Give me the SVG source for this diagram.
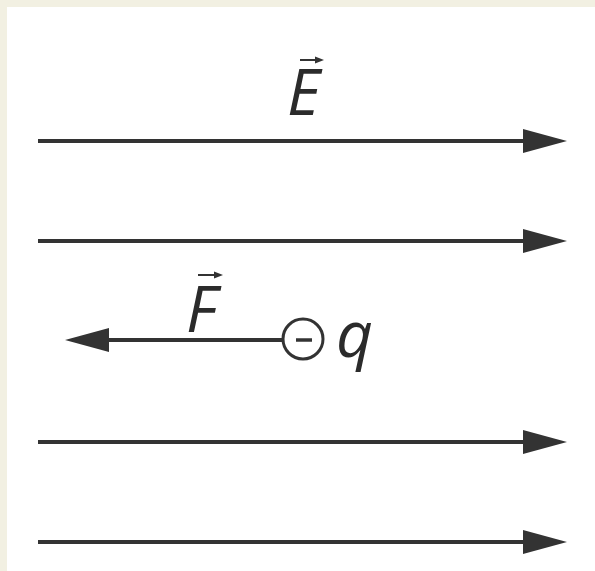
<svg xmlns="http://www.w3.org/2000/svg" width="595" height="571" viewBox="0 0 595 571">
<defs>
<style>
.line{stroke:#333;stroke-width:4;fill:none}
.vec{stroke:#333;stroke-width:2;fill:none}
.lbl{font-family:"Open Sans","Liberation Sans",sans-serif;font-style:italic;fill:#2b2b2b}
</style>
<marker id="head" markerUnits="userSpaceOnUse" markerWidth="46" markerHeight="26" refX="0" refY="13" orient="auto" viewBox="0 0 46 26">
<path d="M0,1 L44,13 L0,25 Z" fill="#333"/>
</marker>
<marker id="small" markerUnits="userSpaceOnUse" markerWidth="10" markerHeight="8" refX="0" refY="4" orient="auto" viewBox="0 0 10 8">
<path d="M0,0.5 L9,4 L0,7.5 Z" fill="#333"/>
</marker>
</defs>
<rect x="0" y="0" width="595" height="571" fill="#f2f0e2"/>
<rect x="7" y="7" width="588" height="564" fill="#ffffff"/>
<g id="connectors">
<line class="line" x1="38" y1="141" x2="523" y2="141" marker-end="url(#head)"/>
<line class="line" x1="38" y1="241" x2="523" y2="241" marker-end="url(#head)"/>
<line class="line" x1="38" y1="442" x2="523" y2="442" marker-end="url(#head)"/>
<line class="line" x1="38" y1="542" x2="523" y2="542" marker-end="url(#head)"/>
<line class="line" x1="283" y1="340" x2="109" y2="340" marker-end="url(#head)"/>
</g>
<g id="label-E">
<text class="lbl" x="287" y="115" font-size="64">E</text>
<line class="vec" x1="300" y1="60" x2="315" y2="60" marker-end="url(#small)"/>
</g>
<g id="label-F">
<text class="lbl" x="186" y="332" font-size="64">F</text>
<line class="vec" x1="198" y1="275" x2="214" y2="275" marker-end="url(#small)"/>
</g>
<g id="charge">
<circle cx="303" cy="339" r="20" fill="#fff" stroke="#333" stroke-width="3"/>
<line x1="296" y1="340" x2="312" y2="340" stroke="#333" stroke-width="3.5"/>
<text class="lbl" x="336" y="357" font-size="64">q</text>
</g>
</svg>
